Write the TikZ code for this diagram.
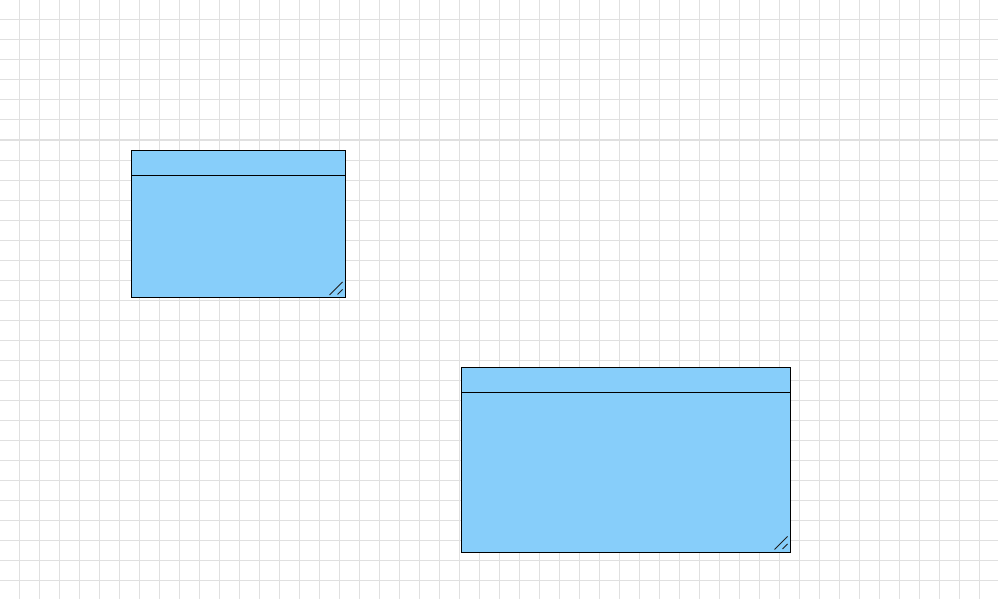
\documentclass[tikz,border=0pt]{standalone}
\begin{document}
\begin{tikzpicture}[x=1pt,y=-1pt,
  gridline/.style={draw={rgb,255:red,224;green,224;blue,224},line width=1pt},
  classbox/.style={draw=black,fill={rgb,255:red,135;green,206;blue,250},line width=0.9pt,inner sep=0pt,anchor=north west},
  sepline/.style={draw=black,line width=0.9pt},
  grip/.style={draw={rgb,255:red,30;green,30;blue,30},line width=0.8pt}]
\useasboundingbox (0,0) rectangle (998,599);
\fill[white] (0,0) rectangle (998,599);
% grid
\foreach \gx in {19,39,...,979} \draw[gridline] (\gx,0) -- (\gx,599);
\foreach \gy in {0,20,...,580} \draw[gridline] (0,\gy) -- (998,\gy);
% box 1
\node[classbox,minimum width=214pt,minimum height=147pt] (b1) at (131,150) {};
\coordinate (b1hl) at (131,175);
\coordinate (b1hr) at (345,175);
\draw[sepline] (b1hl) -- (b1hr);
\draw[grip] (329.5,295) -- (342.5,282);
\draw[grip] (337.5,294.5) -- (342.5,289.5);
% box 2
\node[classbox,minimum width=329pt,minimum height=185pt] (b2) at (461,367) {};
\coordinate (b2hl) at (461,392);
\coordinate (b2hr) at (790,392);
\draw[sepline] (b2hl) -- (b2hr);
\draw[grip] (774.5,549.5) -- (787.5,536.5);
\draw[grip] (782.5,549) -- (787.5,544);
\end{tikzpicture}
\end{document}
